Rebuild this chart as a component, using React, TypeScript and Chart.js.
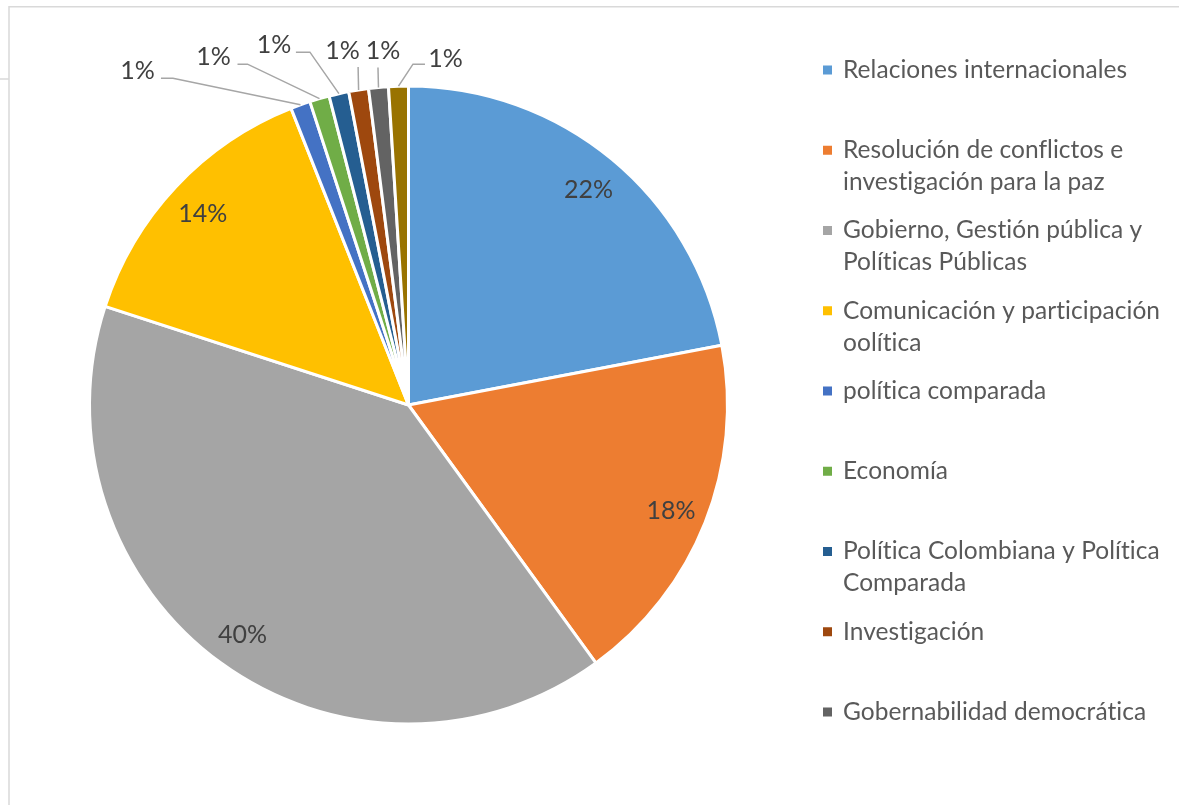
import React, { useEffect, useRef } from "react";
import { Chart, registerables } from "chart.js";

Chart.register(...registerables);

// ---- Data ----
const categories: string[][] = [
  ["Relaciones internacionales"],
  ["Resolución de conflictos e", "investigación para la paz"],
  ["Gobierno, Gestión pública y", "Políticas Públicas"],
  ["Comunicación y participación", "oolítica"],
  ["política comparada"],
  ["Economía"],
  ["Política Colombiana y Política", "Comparada"],
  ["Investigación"],
  ["Gobernabilidad democrática"],
  ["Otros"],
];
const shares: number[] = [22, 18, 40, 14, 1, 1, 1, 1, 1, 1];

// ---- Styles / layout ----
const colors = [
  "#5B9BD5", "#ED7D31", "#A5A5A5", "#FFC000", "#4472C4",
  "#70AD47", "#255E91", "#9E480E", "#636363", "#997300",
];
const FONT = "Lato, 'Open Sans', sans-serif";
const W = 1179;
const H = 805;
const INNER_LABEL_RATIO = 0.885;
// offsets (label centre relative to slice edge point) and leader attach points (relative to label centre)
const smallLabelLayout = [
  { dx: -163, dy: -34, path: [[23.5, 7.5], [35.5, 7.5]] },
  { dx: -106, dy: -42, path: [[24, 7.5], [34, 7.5]] },
  { dx: -65, dy: -49, path: [[22, 7.5], [36, 7.5]] },
  { dx: -16, dy: -39, path: [[15.5, 16]] },
  { dx: 4.5, dy: -36, path: [[-5, 16]] },
  { dx: 47, dy: -27, path: [[-20.5, 5], [-32.5, 5]] },
];
const LEGEND_X = 823;
const LEGEND_TEXT_X = 843;
const LEGEND_TOP = 70;
const LEGEND_STEP = 80.25;
const LEGEND_LINE_H = 32;
const LEGEND_BOTTOM = 760;

const overlayPlugin = {
  id: "overlay",
  beforeDraw(chart: any) {
    const ctx = chart.ctx;
    ctx.save();
    ctx.strokeStyle = "#D9D9D9";
    ctx.lineWidth = 1.5;
    ctx.beginPath();
    ctx.moveTo(9, H);
    ctx.lineTo(9, 6.75);
    ctx.lineTo(W, 6.75);
    ctx.moveTo(0, 79);
    ctx.lineTo(9, 79);
    ctx.stroke();
    ctx.restore();
  },
  afterDatasetsDraw(chart: any) {
    const ctx = chart.ctx;
    const meta = chart.getDatasetMeta(0);
    const total = shares.reduce((a, b) => a + b, 0);
    ctx.save();
    ctx.textAlign = "center";
    ctx.textBaseline = "middle";
    ctx.fillStyle = "#404040";
    ctx.font = `25px ${FONT}`;
    let smallIdx = 0;
    meta.data.forEach((arc: any, i: number) => {
      const { x, y, startAngle, endAngle, outerRadius } = arc.getProps(
        ["x", "y", "startAngle", "endAngle", "outerRadius"],
        true
      );
      const mid = (startAngle + endAngle) / 2;
      const text = Math.round((shares[i] / total) * 100) + "%";
      if (shares[i] / total >= 0.05) {
        const r = outerRadius * INNER_LABEL_RATIO;
        ctx.fillText(text, x + r * Math.cos(mid), y + 2 + r * Math.sin(mid));
      } else {
        const lay = smallLabelLayout[smallIdx++];
        const ex = x + outerRadius * Math.cos(mid);
        const ey = y + outerRadius * Math.sin(mid);
        const lx = ex + lay.dx;
        const ly = ey + lay.dy;
        ctx.fillText(text, lx, ly);
        ctx.save();
        ctx.strokeStyle = "#A6A6A6";
        ctx.lineWidth = 1.5;
        ctx.beginPath();
        lay.path.forEach((p, k) => {
          if (k === 0) ctx.moveTo(lx + p[0], ly + p[1]);
          else ctx.lineTo(lx + p[0], ly + p[1]);
        });
        ctx.lineTo(ex, ey);
        ctx.stroke();
        ctx.restore();
      }
    });
    ctx.restore();

    // legend
    ctx.save();
    ctx.font = `24.5px ${FONT}`;
    try { (ctx as any).letterSpacing = "0.05px"; } catch (e) { /* ignore */ }
    ctx.textAlign = "left";
    ctx.textBaseline = "middle";
    categories.forEach((lines, i) => {
      const y0 = LEGEND_TOP + i * LEGEND_STEP;
      if (y0 + (lines.length - 1) * LEGEND_LINE_H > LEGEND_BOTTOM) return;
      ctx.fillStyle = colors[i];
      ctx.fillRect(LEGEND_X, y0 - 4.5, 9, 9);
      ctx.fillStyle = "#595959";
      lines.forEach((ln, k) => ctx.fillText(ln, LEGEND_TEXT_X, y0 + k * LEGEND_LINE_H));
    });
    ctx.restore();
  },
};

export default function App() {
  const ref = useRef<HTMLCanvasElement | null>(null);
  useEffect(() => {
    if (!ref.current) return;
    const chart = new Chart(ref.current, {
      type: "pie",
      data: {
        labels: categories,
        datasets: [
          {
            data: shares,
            backgroundColor: colors,
            borderColor: "#FFFFFF",
            borderWidth: 3,
            hoverBorderWidth: 3,
            hoverOffset: 0,
            offset: 0,
          },
        ],
      },
      options: {
        responsive: false,
        animation: false,
        devicePixelRatio: 1,
        layout: { padding: { left: 88, top: 84.5, right: 450, bottom: 79.5 } },
        plugins: {
          legend: { display: false },
          tooltip: { enabled: false },
        },
      },
      plugins: [overlayPlugin],
    });
    return () => chart.destroy();
  }, []);
  return (
    <div style={{ position: "fixed", left: 0, top: 0, width: W, height: H, background: "#fff" }}>
      <canvas ref={ref} width={W} height={H} style={{ display: "block" }} />
    </div>
  );
}
